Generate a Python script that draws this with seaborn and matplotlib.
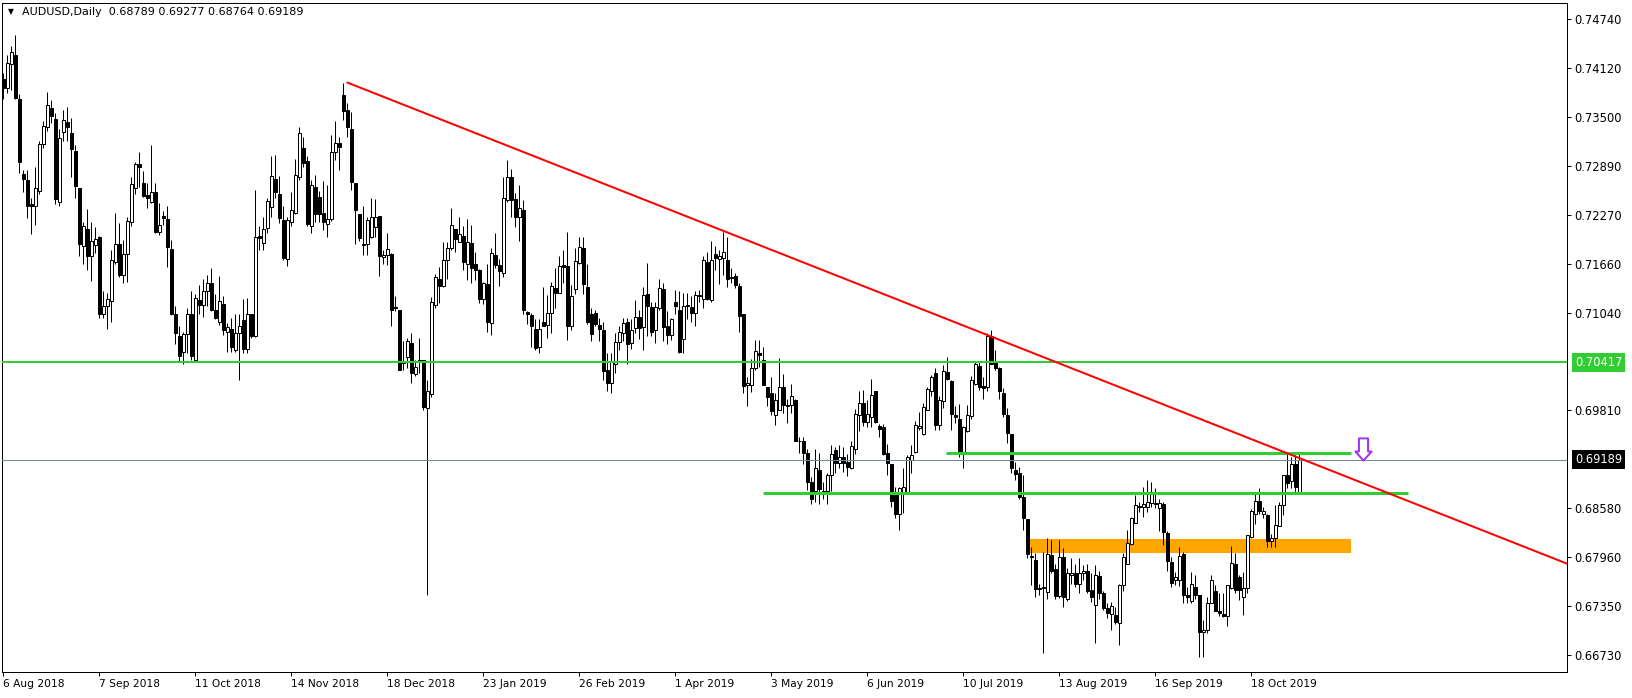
import numpy as np
import matplotlib
matplotlib.use("Agg")
import matplotlib.pyplot as plt
import matplotlib.transforms as mtransforms
from matplotlib.path import Path
import seaborn as sns

sns.set_theme(style="white")
plt.rcParams["font.family"] = ["DejaVu Sans"]

# daily AUDUSD candles, bar 0 = 6 Aug 2018
opens = [
    .7398, .7387, .7418, .7429, .7373, .7279, .7271, .7241, .7238, .7258,
    .7317, .7338, .7362, .7348, .7244, .7332, .7344, .7331, .7308, .7261,
    .7188, .7210, .7175, .7190, .7199, .7103, .7113, .7119, .7168, .7191,
    .7152, .7178, .7218, .7261, .7291, .7267, .7252, .7243, .7256, .7206,
    .7226, .7222, .7184, .7102, .7075, .7055, .7077, .7102, .7045, .7120,
    .7114, .7131, .7141, .7108, .7092, .7115, .7080, .7084, .7057, .7078,
    .7095, .7059, .7103, .7075, .7201, .7192, .7211, .7237, .7273, .7254,
    .7221, .7172, .7218, .7230, .7275, .7311, .7295, .7213, .7263, .7250,
    .7230, .7216, .7222, .7306, .7318, .7378, .7360, .7336, .7267, .7229,
    .7191, .7191, .7200, .7212, .7226, .7174, .7177, .7178, .7111, .7107,
    .7041, .7048, .7066, .7027, .7044, .7044, .6984, .7002, .7114, .7147,
    .7138, .7170, .7185, .7209, .7193, .7201, .7166, .7192, .7165, .7158,
    .7121, .7140, .7091, .7177, .7164, .7154, .7246, .7275, .7247, .7225,
    .7234, .7105, .7101, .7084, .7061, .7093, .7089, .7104, .7135, .7129,
    .7164, .7163, .7088, .7134, .7167, .7185, .7136, .7103, .7104, .7089,
    .7082, .7032, .7015, .7039, .7067, .7079, .7092, .7066, .7085, .7099,
    .7086, .7128, .7111, .7082, .7110, .7134, .7088, .7076, .7118, .7107,
    .7071, .7114, .7111, .7104, .7125, .7122, .7168, .7120, .7178, .7172,
    .7173, .7171, .7149, .7150, .7138, .7102, .7013, .7013, .7035, .7053,
    .7045, .7011, .7003, .6975, .6982, .7011, .6987, .6988, .6994, .6943,
    .6942, .6927, .6891, .6879, .6906, .6880, .6879, .6900, .6931, .6915,
    .6923, .6916, .6908, .6932, .6975, .6991, .6966, .6973, .7006, .6961,
    .6960, .6927, .6913, .6874, .6850, .6877, .6877, .6918, .6929, .6959,
    .6951, .6982, .7006, .7028, .6963, .6993, .7029, .7018, .6975, .6970,
    .6926, .6955, .6974, .7014, .7037, .7012, .7010, .7075, .7041, .7034,
    .7003, .6975, .6951, .6906, .6902, .6872, .6844, .6798, .6793, .6756,
    .6757, .6752, .6799, .6781, .6747, .6796, .6744, .6774, .6776, .6763,
    .6776, .6779, .6755, .6736, .6773, .6751, .6732, .6725, .6723, .6713,
    .6761, .6788, .6813, .6839, .6861, .6859, .6860, .6865, .6865, .6858,
    .6863, .6827, .6790, .6768, .6768, .6800, .6748, .6741, .6759, .6748,
    .6702, .6705, .6739, .6754, .6729, .6725, .6722, .6757, .6788, .6771,
    .6746, .6758, .6822, .6850, .6867, .6851, .6849, .6816, .6821, .6836,
    .6862, .6900, .6892, .6913, .68789,
]
highs = [
    .7406, .7429, .7440, .7454, .7380, .7284, .7284, .7248, .7288, .7321,
    .7345, .7382, .7372, .7356, .7336, .7359, .7363, .7349, .7315, .7261,
    .7219, .7235, .7218, .7212, .7201, .7131, .7129, .7183, .7230, .7217,
    .7196, .7225, .7275, .7294, .7306, .7282, .7267, .7315, .7268, .7242,
    .7232, .7238, .7196, .7112, .7088, .7080, .7110, .7131, .7128, .7139,
    .7147, .7152, .7160, .7128, .7150, .7125, .7091, .7097, .7103, .7102,
    .7121, .7123, .7103, .7259, .7213, .7225, .7248, .7301, .7303, .7276,
    .7238, .7225, .7256, .7298, .7338, .7326, .7301, .7271, .7277, .7257,
    .7270, .7265, .7328, .7345, .7326, .7394, .7368, .7357, .7267, .7229,
    .7238, .7225, .7248, .7247, .7226, .7183, .7204, .7179, .7125, .7108,
    .7069, .7072, .7078, .7045, .7072, .7045, .7019, .7124, .7153, .7162,
    .7193, .7193, .7236, .7210, .7225, .7213, .7222, .7214, .7180, .7159,
    .7143, .7166, .7185, .7204, .7172, .7275, .7296, .7285, .7255, .7265,
    .7246, .7106, .7104, .7096, .7096, .7137, .7126, .7143, .7160, .7175,
    .7183, .7206, .7139, .7185, .7200, .7199, .7166, .7110, .7107, .7097,
    .7093, .7053, .7053, .7078, .7087, .7098, .7098, .7096, .7120, .7107,
    .7137, .7167, .7118, .7117, .7147, .7142, .7106, .7098, .7133, .7132,
    .7129, .7129, .7125, .7131, .7133, .7175, .7181, .7194, .7188, .7183,
    .7206, .7200, .7160, .7154, .7141, .7103, .7023, .7046, .7070, .7070,
    .7061, .7011, .7023, .7003, .7047, .7027, .6995, .7014, .6995, .6948,
    .6948, .6933, .6897, .6933, .6928, .6891, .6902, .6937, .6935, .6937,
    .6935, .6926, .6942, .6983, .7005, .7007, .6994, .7021, .7006, .6964,
    .6964, .6939, .6914, .6884, .6885, .6908, .6925, .6937, .6968, .6979,
    .6991, .7010, .7026, .7034, .6999, .7038, .7048, .7019, .6986, .6989,
    .6961, .6988, .7024, .7042, .7042, .7023, .7078, .7082, .7057, .7036,
    .7009, .6984, .6951, .6916, .6910, .6900, .6844, .6809, .6801, .6763,
    .6803, .6821, .6818, .6788, .6818, .6808, .6783, .6795, .6788, .6795,
    .6786, .6788, .6776, .6786, .6779, .6753, .6739, .6740, .6734, .6763,
    .6801, .6830, .6847, .6874, .6866, .6884, .6894, .6891, .6883, .6870,
    .6866, .6829, .6797, .6778, .6809, .6803, .6759, .6778, .6774, .6748,
    .6717, .6746, .6774, .6761, .6751, .6751, .6761, .6810, .6801, .6774,
    .6778, .6824, .6857, .6877, .6883, .6860, .6851, .6826, .6862, .6866,
    .6900, .6929, .6923, .6925, .69277,
]
lows = [
    .7373, .7381, .7384, .7373, .7280, .7256, .7224, .7203, .7215, .7254,
    .7311, .7333, .7343, .7241, .7238, .7321, .7321, .7275, .7249, .7175,
    .7166, .7158, .7144, .7179, .7098, .7098, .7084, .7093, .7165, .7149,
    .7142, .7143, .7213, .7254, .7263, .7250, .7236, .7242, .7204, .7202,
    .7215, .7162, .7101, .7065, .7043, .7040, .7053, .7045, .7045, .7103,
    .7099, .7112, .7106, .7096, .7089, .7076, .7055, .7055, .7055, .7020,
    .7053, .7053, .7072, .7074, .7183, .7183, .7204, .7225, .7248, .7217,
    .7171, .7163, .7213, .7229, .7271, .7288, .7213, .7204, .7219, .7219,
    .7208, .7199, .7220, .7297, .7284, .7347, .7326, .7259, .7191, .7195,
    .7177, .7177, .7198, .7200, .7150, .7166, .7164, .7087, .7106, .7032,
    .7032, .7034, .7015, .7025, .7028, .6981, .6749, .6998, .7110, .7116,
    .7137, .7146, .7183, .7181, .7193, .7158, .7145, .7141, .7145, .7116,
    .7115, .7080, .7076, .7160, .7138, .7149, .7244, .7225, .7212, .7194,
    .7103, .7090, .7061, .7057, .7054, .7087, .7072, .7078, .7110, .7129,
    .7141, .7070, .7082, .7128, .7165, .7128, .7090, .7069, .7087, .7068,
    .7020, .7005, .7003, .7028, .7057, .7068, .7040, .7059, .7078, .7071,
    .7057, .7075, .7075, .7066, .7108, .7068, .7065, .7070, .7103, .7053,
    .7054, .7096, .7092, .7087, .7118, .7110, .7120, .7117, .7158, .7140,
    .7152, .7136, .7141, .7135, .7080, .7003, .6987, .7004, .7032, .7036,
    .7013, .6986, .6975, .6963, .6982, .6978, .6965, .6978, .6942, .6927,
    .6914, .6881, .6863, .6866, .6863, .6869, .6863, .6880, .6902, .6908,
    .6903, .6898, .6907, .6926, .6955, .6961, .6960, .6960, .6965, .6947,
    .6925, .6900, .6860, .6846, .6830, .6852, .6876, .6902, .6928, .6956,
    .6950, .6981, .6999, .6956, .6956, .6984, .7019, .6956, .6965, .6923,
    .6909, .6954, .6970, .7013, .7007, .6996, .7005, .7040, .7032, .6996,
    .6973, .6940, .6902, .6893, .6870, .6831, .6795, .6761, .6746, .6748,
    .6676, .6744, .6776, .6744, .6745, .6734, .6741, .6762, .6759, .6751,
    .6767, .6751, .6740, .6688, .6744, .6730, .6720, .6705, .6712, .6686,
    .6753, .6788, .6812, .6839, .6853, .6847, .6853, .6860, .6858, .6829,
    .6811, .6779, .6759, .6761, .6760, .6738, .6738, .6739, .6744, .6671,
    .6670, .6701, .6738, .6729, .6722, .6721, .6709, .6756, .6751, .6742,
    .6723, .6751, .6821, .6838, .6851, .6846, .6809, .6809, .6809, .6835,
    .6849, .6883, .6883, .6878, .68764,
]
closes = [
    .7387, .7419, .7433, .7374, .7294, .7272, .7239, .7239, .7261, .7317,
    .7339, .7366, .7352, .7247, .7324, .7347, .7338, .7310, .7264, .7191,
    .7213, .7175, .7194, .7197, .7102, .7113, .7121, .7171, .7191, .7152,
    .7178, .7220, .7266, .7291, .7288, .7251, .7249, .7256, .7206, .7215,
    .7224, .7187, .7102, .7078, .7049, .7077, .7102, .7049, .7123, .7114,
    .7131, .7141, .7108, .7098, .7119, .7082, .7086, .7061, .7078, .7087,
    .7059, .7103, .7075, .7200, .7198, .7210, .7245, .7276, .7256, .7224,
    .7173, .7221, .7233, .7277, .7330, .7293, .7216, .7265, .7229, .7229,
    .7218, .7222, .7306, .7318, .7313, .7358, .7338, .7269, .7234, .7198,
    .7189, .7221, .7225, .7225, .7175, .7177, .7184, .7107, .7110, .7032,
    .7043, .7069, .7028, .7036, .7042, .6985, .7005, .7118, .7149, .7138,
    .7171, .7185, .7215, .7197, .7203, .7168, .7193, .7161, .7158, .7121,
    .7141, .7092, .7179, .7164, .7157, .7248, .7275, .7246, .7225, .7236,
    .7107, .7102, .7087, .7060, .7083, .7088, .7104, .7138, .7129, .7163,
    .7162, .7088, .7125, .7169, .7187, .7140, .7093, .7077, .7090, .7084,
    .7031, .7015, .7042, .7067, .7080, .7091, .7065, .7082, .7099, .7085,
    .7126, .7112, .7080, .7111, .7135, .7086, .7076, .7096, .7113, .7055,
    .7112, .7112, .7104, .7126, .7127, .7171, .7121, .7171, .7173, .7176,
    .7180, .7147, .7148, .7139, .7100, .7012, .7015, .7035, .7056, .7051,
    .7013, .6998, .6980, .6994, .7011, .6988, .6988, .6999, .6943, .6942,
    .6927, .6891, .6870, .6908, .6882, .6878, .6900, .6926, .6915, .6922,
    .6915, .6910, .6936, .6976, .6990, .6967, .6976, .7000, .6966, .6958,
    .6926, .6915, .6867, .6850, .6883, .6884, .6922, .6925, .6963, .6961,
    .6985, .7008, .7023, .6963, .6994, .7031, .7021, .6977, .6973, .6928,
    .6960, .6975, .7019, .7039, .7010, .7009, .7075, .7040, .7034, .7005,
    .6977, .6952, .6909, .6901, .6872, .6846, .6800, .6797, .6756, .6757,
    .6759, .6800, .6779, .6747, .6796, .6746, .6776, .6776, .6763, .6776,
    .6779, .6754, .6746, .6774, .6751, .6732, .6726, .6735, .6714, .6761,
    .6797, .6814, .6846, .6862, .6859, .6863, .6866, .6876, .6863, .6865,
    .6828, .6792, .6764, .6771, .6798, .6748, .6746, .6763, .6748, .6702,
    .6705, .6739, .6767, .6729, .6726, .6722, .6761, .6789, .6755, .6755,
    .6758, .6824, .6855, .6867, .6855, .6854, .6816, .6820, .6837, .6862,
    .6900, .6890, .6913, .6884, .69189,
]

date_bars = [0, 24, 48, 72, 96, 120, 144, 168, 192, 216, 240, 264, 288, 312]
date_labels = ["6 Aug 2018", "7 Sep 2018", "11 Oct 2018", "14 Nov 2018",
               "18 Dec 2018", "23 Jan 2019", "26 Feb 2019", "1 Apr 2019",
               "3 May 2019", "6 Jun 2019", "10 Jul 2019", "13 Aug 2019",
               "16 Sep 2019", "18 Oct 2019"]
price_ticks = [0.74740, 0.74120, 0.73500, 0.72890, 0.72270, 0.71660, 0.71040,
               0.69810, 0.68580, 0.67960, 0.67350, 0.66730]

header = "AUDUSD,Daily  0.68789 0.69277 0.68764 0.69189"
bid = 0.69189
key_level = 0.70417
# trendline anchors (bar, price)
trend_a = (86, 0.7394)
trend_b = (324, 0.6921)
# short horizontal levels: (price, first bar, last bar)
short_levels = [(0.69277, 235.6, 336.9), (0.6877, 190.0, 351.2)]
# orange zone
zone_lo, zone_hi = 0.6802, 0.6819
zone_x0, zone_x1 = 256.5, 336.9
arrow_bar, arrow_price = 340.0, 0.6932

x_min, x_max = -0.33, 390.9
y_min, y_max = 0.66516, 0.74942

o = np.array(opens)
h = np.array(highs)
l = np.array(lows)
c = np.array(closes)
assert len(o) == len(h) == len(l) == len(c)
bars = np.arange(len(o))
up = c >= o

W, H = 1633, 698
fig = plt.figure(figsize=(W / 100, H / 100), dpi=100)
ax = fig.add_axes([2 / W, 26 / H, 1565 / W, 669 / H])
ax.set_facecolor("white")

px = 0.72  # one pixel in points

# orange zone sits behind the candles
ax.fill_between([zone_x0, zone_x1], zone_lo, zone_hi, color="#FFA500", lw=0, zorder=1)

ax.vlines(bars, l, h, color="black", lw=px, zorder=2)
ax.bar(bars[up], (c - o)[up], bottom=o[up], width=0.72, color="white",
       edgecolor="black", linewidth=px, zorder=3)
ax.bar(bars[~up], (o - c)[~up], bottom=c[~up], width=0.72, color="black",
       edgecolor="black", linewidth=px, zorder=3)

# lines
ax.axhline(bid, color="#778899", lw=px, zorder=4)
ax.axhline(key_level, color="#32CD32", lw=2 * px, zorder=5)
for price, x0, x1 in short_levels:
    ax.hlines(price, x0, x1, color="#32CD32", lw=3 * px, zorder=5)

slope = (trend_b[1] - trend_a[1]) / (trend_b[0] - trend_a[0])
trend_x = [trend_a[0], x_max]
trend_y = [trend_a[1], trend_a[1] + slope * (x_max - trend_a[0])]
sns.lineplot(x=trend_x, y=trend_y, ax=ax, color="#FF0000", lw=2 * px, zorder=6)

# hollow down arrow marker
arrow_shape = Path([(-4.5, 11), (4.5, 11), (4.5, -2), (8, -2), (0, -11),
                    (-8, -2), (-4.5, -2), (-4.5, 11)], closed=True)
ax.plot([arrow_bar], [arrow_price], marker=arrow_shape, markersize=16,
        markerfacecolor="white", markeredgecolor="#A030F0",
        markeredgewidth=1.4, linestyle="none", zorder=7)

ax.set_xlim(x_min, x_max)
ax.set_ylim(y_min, y_max)
ax.set_xlabel("")
ax.set_ylabel("")

ax.set_xticks(date_bars)
ax.set_xticklabels(date_labels, ha="left")
ax.yaxis.tick_right()
ax.set_yticks(price_ticks)
ax.set_yticklabels([f"{p:.5f}" for p in price_ticks])
ax.tick_params(axis="x", direction="out", length=3, width=px, pad=2,
               labelsize=7.7, colors="black", bottom=True)
ax.tick_params(axis="y", direction="out", length=3, width=px, pad=2,
               labelsize=8.3, colors="black", right=True, left=False)
for sp in ax.spines.values():
    sp.set_color("black")
    sp.set_linewidth(px)

# price boxes on the axis
trans = mtransforms.blended_transform_factory(ax.transAxes, ax.transData)
ax.text(1.0051, key_level, f"{key_level:.5f}", transform=trans, color="white",
        fontsize=8.3, ha="left", va="center", clip_on=False,
        bbox=dict(boxstyle="square,pad=0.25", fc="#32CD32", ec="none"))
ax.text(1.0051, bid, f"{bid:.5f}", transform=trans, color="white",
        fontsize=8.3, ha="left", va="center", clip_on=False,
        bbox=dict(boxstyle="square,pad=0.25", fc="black", ec="none"))

fig.text(8 / W, 1 - 12 / H, "\u25bc", fontsize=5.5, va="center", color="black")
fig.text(22 / W, 1 - 12 / H, header, fontsize=8, va="center", color="black")

fig.savefig("out.png", dpi=100)
